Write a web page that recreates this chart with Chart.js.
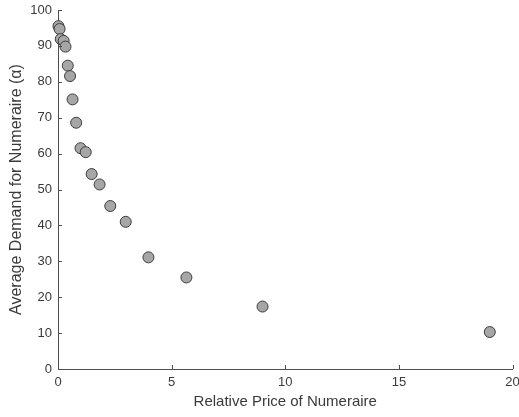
<!DOCTYPE html>
<html>
<head>
<meta charset="utf-8">
<script src="https://cdn.jsdelivr.net/npm/chart.js@4/dist/chart.umd.min.js"></script>
<style>
html,body{margin:0;padding:0;background:#fff;}
#wrap{width:519px;height:417px;position:relative;}
</style>
</head>
<body>
<div id="wrap"><canvas id="c" width="519" height="417"></canvas></div>
<script>
const relativePrice = [0.02, 0.07, 0.12, 0.25, 0.33, 0.43, 0.53, 0.64, 0.80, 0.99, 1.22, 1.48, 1.83, 2.30, 2.98, 3.98, 5.65, 9.0, 19.0];
const avgDemand = [95.5, 94.7, 91.9, 91.4, 89.8, 84.5, 81.6, 75.1, 68.6, 61.5, 60.4, 54.3, 51.4, 45.4, 41.0, 31.1, 25.5, 17.4, 10.3];
const xTitle = 'Relative Price of Numeraire';
const yTitle = 'Average Demand for Numeraire (\u03B1)';

const points = relativePrice.map((x, i) => ({x: x, y: avgDemand[i]}));
const textColor = '#3a3a3a';
const axisColor = '#4d4d4d';

const inwardTicks = {
  id: 'inwardTicks',
  afterDraw(chart) {
    const ctx = chart.ctx;
    const xs = chart.scales.x, ys = chart.scales.y;
    ctx.save();
    ctx.strokeStyle = axisColor;
    ctx.lineWidth = 1;
    ctx.beginPath();
    xs.ticks.forEach(t => {
      const px = Math.round(xs.getPixelForValue(t.value)) + 0.5;
      ctx.moveTo(px, ys.bottom);
      ctx.lineTo(px, ys.bottom - 4);
    });
    ys.ticks.forEach(t => {
      const py = Math.round(ys.getPixelForValue(t.value)) + 0.5;
      ctx.moveTo(xs.left, py);
      ctx.lineTo(xs.left + 4, py);
    });
    ctx.stroke();
    ctx.restore();
  }
};

new Chart(document.getElementById('c'), {
  type: 'scatter',
  data: {
    datasets: [{
      data: points,
      backgroundColor: '#a6a6a6',
      borderColor: '#3c3c3c',
      borderWidth: 1,
      pointRadius: 5.5,
      pointHoverRadius: 5.5,
      clip: false
    }]
  },
  options: {
    responsive: false,
    animation: false,
    devicePixelRatio: 1,
    layout: {padding: {top: 10, right: 6, left: 0, bottom: 0}},
    plugins: {legend: {display: false}, tooltip: {enabled: false}},
    scales: {
      x: {
        type: 'linear', min: 0, max: 20,
        afterFit: s => { s.height = 48; s.paddingRight = 0; s.paddingLeft = 0; },
        ticks: {stepSize: 5, color: textColor, padding: 6, font: {family: 'Liberation Sans, Arial, sans-serif', size: 13}},
        grid: {display: false, drawTicks: false},
        border: {display: true, color: axisColor, width: 1},
        title: {display: true, text: xTitle, color: textColor, font: {family: 'Liberation Sans, Arial, sans-serif', size: 15}, padding: {top: 2, bottom: 6}}
      },
      y: {
        type: 'linear', min: 0, max: 100,
        afterFit: s => { s.width = 58; s.paddingTop = 0; s.paddingBottom = 0; },
        ticks: {stepSize: 10, color: textColor, padding: 6, font: {family: 'Liberation Sans, Arial, sans-serif', size: 13}},
        grid: {display: false, drawTicks: false},
        border: {display: true, color: axisColor, width: 1},
        title: {display: true, text: yTitle, color: textColor, font: {family: 'Liberation Sans, Arial, sans-serif', size: 16}, padding: {top: 7, bottom: 0}}
      }
    }
  },
  plugins: [inwardTicks]
});
</script>
</body>
</html>
